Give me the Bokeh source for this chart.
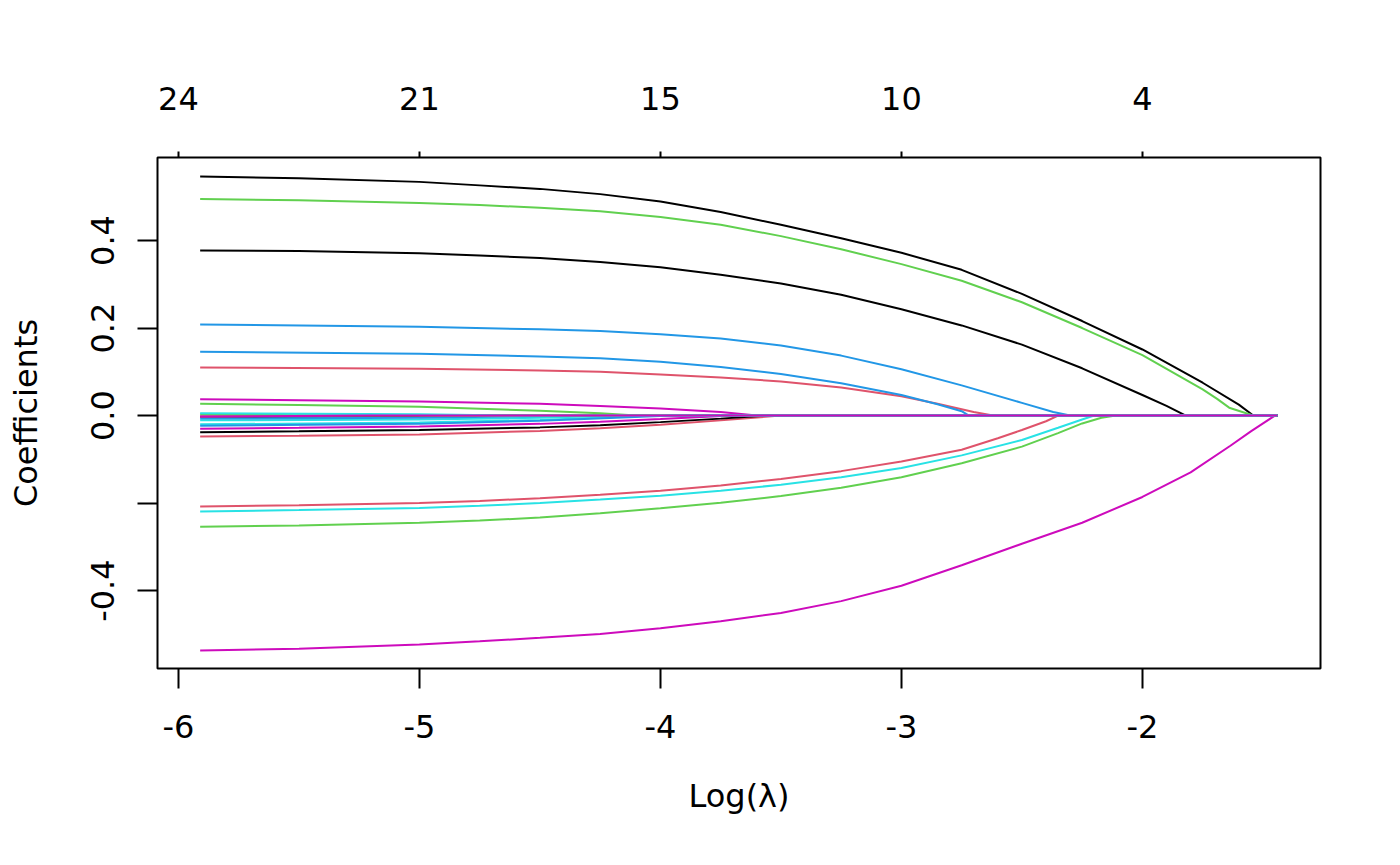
from bokeh.plotting import figure
from bokeh.models import Range1d, LinearAxis, FixedTicker
from bokeh.embed import file_html
from bokeh.resources import INLINE

# R default palette, cycled by matplot (col = 1:6)
r_palette = ["#000000", "#DF536B", "#61D04F", "#2297E6", "#28E2E5", "#CD0BBC"]

# coefficient paths: log(lambda) knots and coefficient values, one pair per variable
v01_lam = [-5.91, -5.5, -5.0, -4.75, -4.5, -4.25, -4.0, -3.75, -3.5, -3.25, -3.0, -2.75, -2.5, -2.25, -2.0, -1.75, -1.6, -1.54, -1.44]
v01_coef = [0.546, 0.542, 0.534, 0.526, 0.518, 0.506, 0.489, 0.465, 0.436, 0.405, 0.372, 0.333, 0.278, 0.216, 0.151, 0.075, 0.025, 0.0, 0.0]
v02_lam = [-5.91, -5.0, -4.5, -4.25, -4.0, -3.75, -3.5, -3.25, -3.0, -2.85, -2.7, -2.62, -1.44]
v02_coef = [0.11, 0.107, 0.103, 0.1, 0.094, 0.087, 0.078, 0.064, 0.044, 0.027, 0.008, 0.0, 0.0]
v03_lam = [-5.91, -5.5, -5.0, -4.75, -4.5, -4.25, -4.0, -3.75, -3.5, -3.25, -3.0, -2.75, -2.5, -2.25, -2.0, -1.75, -1.69, -1.64, -1.54, -1.44]
v03_coef = [0.495, 0.492, 0.486, 0.481, 0.475, 0.467, 0.454, 0.436, 0.41, 0.38, 0.346, 0.308, 0.259, 0.2, 0.138, 0.06, 0.038, 0.018, 0.0, 0.0]
v04_lam = [-5.91, -5.0, -4.5, -4.25, -4.0, -3.75, -3.5, -3.25, -3.0, -2.75, -2.5, -2.37, -2.3, -1.44]
v04_coef = [0.208, 0.203, 0.197, 0.193, 0.186, 0.176, 0.16, 0.137, 0.106, 0.069, 0.029, 0.008, 0.0, 0.0]
v05_lam = [-5.91, -5.5, -5.0, -4.75, -4.5, -4.25, -4.0, -3.75, -3.5, -3.25, -3.0, -2.75, -2.5, -2.35, -2.25, -2.2, -1.44]
v05_coef = [-0.219, -0.216, -0.211, -0.206, -0.2, -0.192, -0.183, -0.172, -0.158, -0.141, -0.12, -0.091, -0.056, -0.028, -0.009, 0.0, 0.0]
v06_lam = [-5.91, -5.5, -5.0, -4.75, -4.5, -4.25, -4.0, -3.75, -3.5, -3.25, -3.0, -2.75, -2.5, -2.25, -2.0, -1.8, -1.635, -1.55, -1.45]
v06_coef = [-0.537, -0.533, -0.523, -0.516, -0.508, -0.499, -0.486, -0.47, -0.451, -0.424, -0.389, -0.342, -0.293, -0.245, -0.186, -0.13, -0.069, -0.036, 0.0]
v07_lam = [-5.91, -5.5, -5.0, -4.75, -4.5, -4.25, -4.0, -3.75, -3.5, -3.25, -3.0, -2.75, -2.5, -2.25, -2.0, -1.9, -1.82, -1.44]
v07_coef = [0.377, 0.376, 0.371, 0.366, 0.36, 0.351, 0.339, 0.322, 0.302, 0.276, 0.243, 0.206, 0.162, 0.108, 0.047, 0.022, 0.0, 0.0]
v08_lam = [-5.91, -5.5, -5.0, -4.75, -4.5, -4.25, -4.0, -3.75, -3.5, -3.25, -3.0, -2.75, -2.6, -2.5, -2.4, -2.35, -1.44]
v08_coef = [-0.208, -0.205, -0.2, -0.195, -0.189, -0.181, -0.172, -0.16, -0.145, -0.127, -0.105, -0.078, -0.052, -0.033, -0.013, 0.0, 0.0]
v09_lam = [-5.91, -5.5, -5.0, -4.75, -4.5, -4.25, -4.0, -3.75, -3.5, -3.25, -3.0, -2.75, -2.5, -2.35, -2.25, -2.17, -2.11, -1.44]
v09_coef = [-0.254, -0.251, -0.245, -0.24, -0.233, -0.223, -0.212, -0.199, -0.184, -0.165, -0.141, -0.109, -0.071, -0.04, -0.018, -0.005, 0.0, 0.0]
v10_lam = [-5.91, -5.0, -4.5, -4.25, -4.0, -3.75, -3.5, -3.25, -3.0, -2.85, -2.75, -2.72, -1.44]
v10_coef = [0.146, 0.141, 0.135, 0.131, 0.123, 0.111, 0.095, 0.074, 0.047, 0.026, 0.01, 0.0, 0.0]
v11_lam = [-5.91, -5.0, -4.5, -4.15, -1.44]
v11_coef = [-0.011, -0.009, -0.005, 0.0, 0.0]
v12_lam = [-5.91, -5.5, -5.0, -4.5, -4.25, -4.0, -3.75, -3.6, -1.44]
v12_coef = [0.037, 0.035, 0.032, 0.027, 0.022, 0.016, 0.008, 0.0, 0.0]
v13_lam = [-5.91, -5.3, -4.8, -1.44]
v13_coef = [-0.003, -0.002, 0.0, 0.0]
v14_lam = [-5.91, -5.5, -5.0, -4.5, -4.25, -4.0, -3.75, -3.5, -1.44]
v14_coef = [-0.048, -0.046, -0.043, -0.035, -0.029, -0.021, -0.011, 0.0, 0.0]
v15_lam = [-5.91, -5.5, -5.0, -4.5, -4.25, -4.1, -1.44]
v15_coef = [0.027, 0.024, 0.02, 0.011, 0.005, 0.0, 0.0]
v16_lam = [-5.91, -5.0, -4.3, -1.44]
v16_coef = [-0.007, -0.005, 0.0, 0.0]
v17_lam = [-5.91, -5.0, -4.5, -4.02, -1.44]
v17_coef = [-0.02, -0.016, -0.01, 0.0, 0.0]
v18_lam = [-5.91, -5.5, -5.0, -4.5, -4.25, -4.0, -3.7, -1.44]
v18_coef = [-0.03, -0.028, -0.025, -0.019, -0.014, -0.008, 0.0, 0.0]
v19_lam = [-5.91, -5.5, -5.0, -4.5, -4.25, -4.0, -3.75, -3.55, -1.44]
v19_coef = [-0.038, -0.036, -0.033, -0.027, -0.022, -0.015, -0.007, 0.0, 0.0]
v20_lam = [-5.91, -5.3, -1.44]
v20_coef = [-0.002, 0.0, 0.0]
v21_lam = [-5.91, -5.4, -1.44]
v21_coef = [0.003, 0.0, 0.0]
v22_lam = [-5.91, -5.0, -4.5, -3.95, -1.44]
v22_coef = [-0.023, -0.019, -0.012, 0.0, 0.0]
v23_lam = [-5.91, -5.0, -4.6, -1.44]
v23_coef = [0.005, 0.003, 0.0, 0.0]
v24_lam = [-5.91, -5.2, -1.44]
v24_coef = [-0.002, 0.0, 0.0]

paths = [
    (v01_lam, v01_coef), (v02_lam, v02_coef), (v03_lam, v03_coef), (v04_lam, v04_coef),
    (v05_lam, v05_coef), (v06_lam, v06_coef), (v07_lam, v07_coef), (v08_lam, v08_coef),
    (v09_lam, v09_coef), (v10_lam, v10_coef), (v11_lam, v11_coef), (v12_lam, v12_coef),
    (v13_lam, v13_coef), (v14_lam, v14_coef), (v15_lam, v15_coef), (v16_lam, v16_coef),
    (v17_lam, v17_coef), (v18_lam, v18_coef), (v19_lam, v19_coef), (v20_lam, v20_coef),
    (v21_lam, v21_coef), (v22_lam, v22_coef), (v23_lam, v23_coef), (v24_lam, v24_coef),
]

# axis ticks and labels
lam_ticks = [-6, -5, -4, -3, -2]
lam_labels = ["-6", "-5", "-4", "-3", "-2"]
df_labels = ["24", "21", "15", "10", "4"]   # number of nonzero coefficients
coef_ticks = [-0.4, -0.2, 0.0, 0.2, 0.4]
coef_labels = ["-0.4", "", "0.0", "0.2", "0.4"]

FONT = "DejaVu Sans"
SIZE = "32px"

p = figure(width=1384, height=849,
           x_range=Range1d(-6.087, -1.261), y_range=Range1d(-0.578, 0.5897),
           output_backend="svg", toolbar_location=None,
           min_border_left=157, min_border_right=64,
           min_border_top=157, min_border_bottom=181)
p.grid.visible = False
p.outline_line_color = "black"
p.outline_line_width = 2
p.outline_line_alpha = 1
p.background_fill_color = "white"
p.border_fill_color = "white"

for i, (lam, coef) in enumerate(paths):
    p.line(lam, coef, line_color=r_palette[i % 6], line_width=2)


def style_axis(ax, tick_out, standoff):
    ax.axis_line_color = None
    ax.major_tick_out = tick_out
    ax.major_tick_in = 0
    ax.minor_tick_out = 0
    ax.minor_tick_in = 0
    ax.major_tick_line_color = "black"
    ax.major_tick_line_width = 2
    ax.major_label_text_font = FONT
    ax.major_label_text_font_size = SIZE
    ax.major_label_text_color = "black"
    ax.major_label_standoff = standoff
    ax.axis_label_text_font = FONT
    ax.axis_label_text_font_size = SIZE
    ax.axis_label_text_font_style = "normal"
    ax.axis_label_text_color = "black"


bottom = p.below[0]
bottom.ticker = FixedTicker(ticks=lam_ticks)
bottom.major_label_overrides = dict(zip(lam_ticks, lam_labels))
bottom.axis_label = "Log(λ)"
bottom.axis_label_standoff = 36
style_axis(bottom, 20, 26)

left = p.left[0]
left.ticker = FixedTicker(ticks=coef_ticks)
left.major_label_overrides = dict(zip(coef_ticks, coef_labels))
left.major_label_orientation = "vertical"
left.axis_label = "Coefficients"
left.axis_label_standoff = 44
style_axis(left, 20, 23)

top = LinearAxis(ticker=FixedTicker(ticks=lam_ticks))
top.major_label_overrides = dict(zip(lam_ticks, df_labels))
style_axis(top, 6, 42)
p.add_layout(top, "above")

open("out.html", "w").write(file_html(p, INLINE))
